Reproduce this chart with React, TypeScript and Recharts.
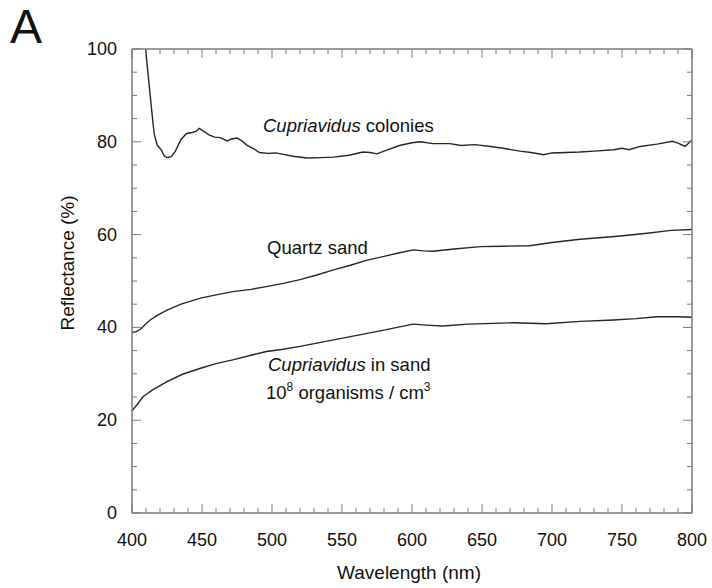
import React from 'react';
import { LineChart, Line, XAxis, YAxis, Customized } from 'recharts';

// ---------- data (wavelength nm, reflectance %) ----------
const coloniesNm = [407, 409, 411, 413, 415, 416, 418, 421, 423, 425, 428, 431, 435, 439, 443, 446, 448, 451, 455, 459, 463, 468, 471, 475, 478, 482, 487, 491, 497, 503, 508, 515, 525, 535, 544, 555, 565, 570, 575, 582, 591, 600, 606, 615, 627, 635, 645, 656, 665, 677, 685, 694, 700, 710, 720, 730, 744, 750, 755, 763, 775, 786, 790, 795, 800];
const coloniesVal = [108, 102, 96, 90, 84, 81.5, 79.3, 78.2, 77.0, 76.6, 76.8, 78, 80.5, 81.8, 82.0, 82.3, 82.9, 82.3, 81.5, 81.0, 80.9, 80.2, 80.6, 80.8, 80.3, 79.3, 78.5, 77.7, 77.5, 77.6, 77.3, 76.9, 76.5, 76.6, 76.7, 77.1, 77.8, 77.7, 77.4, 78.2, 79.2, 79.8, 80.0, 79.6, 79.6, 79.2, 79.4, 79.0, 78.6, 78.0, 77.7, 77.2, 77.6, 77.7, 77.8, 78.0, 78.3, 78.6, 78.3, 79.0, 79.5, 80.1, 79.7, 79.0, 80.4];

const quartzNm = [400, 403, 406, 410, 413, 418, 425, 435, 449, 460, 472, 485, 496, 508, 520, 532, 544, 556, 568, 580, 591, 601, 608, 615, 630, 649, 665, 684, 700, 720, 745, 768, 785, 800];
const quartzVal = [38.9, 39.1, 39.6, 40.8, 41.6, 42.6, 43.7, 45.0, 46.3, 47.0, 47.7, 48.2, 48.8, 49.5, 50.3, 51.3, 52.4, 53.4, 54.5, 55.3, 56.1, 56.7, 56.5, 56.4, 56.9, 57.4, 57.5, 57.6, 58.3, 59.0, 59.6, 60.3, 60.9, 61.1];

const inSandNm = [400, 404, 408, 415, 425, 436, 449, 460, 472, 485, 496, 508, 520, 532, 544, 556, 568, 580, 591, 601, 610, 622, 640, 672, 696, 720, 744, 760, 775, 790, 800];
const inSandVal = [22.0, 23.5, 25.1, 26.6, 28.3, 29.9, 31.2, 32.2, 33.0, 34.0, 34.8, 35.3, 35.9, 36.6, 37.3, 38.0, 38.7, 39.4, 40.1, 40.7, 40.5, 40.3, 40.7, 41.0, 40.8, 41.3, 41.6, 41.9, 42.3, 42.3, 42.2];

// ---------- ticks ----------
const xTicks = [400, 410, 420, 430, 440, 450, 460, 470, 480, 490, 500, 510, 520, 530, 540, 550, 560, 570, 580, 590, 600, 610, 620, 630, 640, 650, 660, 670, 680, 690, 700, 710, 720, 730, 740, 750, 760, 770, 780, 790, 800];
const xLabels = [400, 450, 500, 550, 600, 650, 700, 750, 800];
const yTicks = [0, 5, 10, 15, 20, 25, 30, 35, 40, 45, 50, 55, 60, 65, 70, 75, 80, 85, 90, 95, 100];
const yLabels = [0, 20, 40, 60, 80, 100];

const zip = (xs: number[], ys: number[]) => xs.map((nm, i) => ({ nm, v: ys[i] }));
const colonies = zip(coloniesNm, coloniesVal);
const quartz = zip(quartzNm, quartzVal);
const inSand = zip(inSandNm, inSandVal);

const FONT = '"Liberation Sans", Arial, sans-serif';
const AXIS = '#7a7a7a';
const LINE = '#262626';

const BottomTick = (props: any) => {
  const { x, y, payload } = props;
  const major = xLabels.includes(payload.value);
  return (
    <g>
      <line x1={x} x2={x} y1={y} y2={y - (major ? 9 : 5)} stroke={AXIS} strokeWidth={1} />
      {major && (
        <text x={x} y={y + 27} textAnchor="middle" dominantBaseline="central" fontSize={18} fill="#111" fontFamily={FONT}>
          {payload.value}
        </text>
      )}
    </g>
  );
};

const TopTick = (props: any) => {
  const { x, y, payload } = props;
  const major = xLabels.includes(payload.value);
  return <line x1={x} x2={x} y1={y} y2={y + (major ? 9 : 5)} stroke={AXIS} strokeWidth={1} />;
};

const LeftTick = (props: any) => {
  const { x, y, payload } = props;
  const major = yLabels.includes(payload.value);
  return (
    <g>
      <line x1={x} x2={x + (major ? 9 : 5)} y1={y} y2={y} stroke={AXIS} strokeWidth={1} />
      {major && (
        <text x={x - 15} y={y} textAnchor="end" dominantBaseline="central" fontSize={18} fill="#111" fontFamily={FONT}>
          {payload.value}
        </text>
      )}
    </g>
  );
};

const RightTick = (props: any) => {
  const { x, y, payload } = props;
  const major = yLabels.includes(payload.value);
  return <line x1={x} x2={x - (major ? 9 : 5)} y1={y} y2={y} stroke={AXIS} strokeWidth={1} />;
};

const Annotations = () => (
  <g fontFamily={FONT} fill="#111">
    <text x={10} y={43} fontSize={48}>A</text>
    <text x={263} y={131.5} fontSize={18.5}>
      <tspan fontStyle="italic">Cupriavidus</tspan> colonies
    </text>
    <text x={267} y={253.5} fontSize={18.5}>Quartz sand</text>
    <text x={268} y={371} fontSize={18.5}>
      <tspan fontStyle="italic">Cupriavidus</tspan> in sand
    </text>
    <text x={266} y={399} fontSize={18.5}>
      10<tspan fontSize={12} dy={-8}>8</tspan>
      <tspan dy={8}> organisms / cm</tspan>
      <tspan fontSize={12} dy={-8}>3</tspan>
    </text>
    <text x={67} y={263} fontSize={19} textAnchor="middle" dominantBaseline="central" transform="rotate(-90 67 263)">
      Reflectance (%)
    </text>
    <text x={409} y={572} fontSize={19} textAnchor="middle" dominantBaseline="central">
      Wavelength (nm)
    </text>
  </g>
);

export default function App() {
  return (
    <div style={{ position: 'absolute', left: 0, top: 0, width: 712, height: 588, background: '#fff' }}>
      <LineChart width={712} height={588} margin={{ top: 48, right: 19, bottom: 0, left: 0 }}>
        <XAxis
          xAxisId="b"
          dataKey="nm"
          type="number"
          domain={[400, 800]}
          ticks={xTicks}
          interval={0}
          height={75}
          tickSize={0}
          tickMargin={0}
          tick={<BottomTick />}
          axisLine={{ stroke: AXIS, strokeWidth: 1.5 }}
          tickLine={false}
          allowDataOverflow
        />
        <XAxis
          xAxisId="t"
          orientation="top"
          dataKey="nm"
          type="number"
          domain={[400, 800]}
          ticks={xTicks}
          interval={0}
          height={1}
          tickSize={0}
          tickMargin={0}
          tick={<TopTick />}
          axisLine={{ stroke: AXIS, strokeWidth: 1.5 }}
          tickLine={false}
          allowDataOverflow
        />
        <YAxis
          yAxisId="l"
          type="number"
          domain={[0, 100]}
          ticks={yTicks}
          interval={0}
          width={132}
          tickSize={0}
          tickMargin={0}
          tick={<LeftTick />}
          axisLine={{ stroke: AXIS, strokeWidth: 1.5 }}
          tickLine={false}
          allowDataOverflow
        />
        <YAxis
          yAxisId="r"
          orientation="right"
          type="number"
          domain={[0, 100]}
          ticks={yTicks}
          interval={0}
          width={1}
          tickSize={0}
          tickMargin={0}
          tick={<RightTick />}
          axisLine={{ stroke: AXIS, strokeWidth: 1.5 }}
          tickLine={false}
          allowDataOverflow
        />
        <Line xAxisId="b" yAxisId="l" data={colonies} dataKey="v" type="linear" dot={false} stroke={LINE} strokeWidth={1.4} isAnimationActive={false} />
        <Line xAxisId="b" yAxisId="l" data={quartz} dataKey="v" type="linear" dot={false} stroke={LINE} strokeWidth={1.4} isAnimationActive={false} />
        <Line xAxisId="b" yAxisId="l" data={inSand} dataKey="v" type="linear" dot={false} stroke={LINE} strokeWidth={1.4} isAnimationActive={false} />
        <Line xAxisId="t" yAxisId="r" data={quartz} dataKey="v" type="linear" dot={false} stroke="none" strokeWidth={0} isAnimationActive={false} legendType="none" />
        <Customized component={Annotations} />
      </LineChart>
    </div>
  );
}
